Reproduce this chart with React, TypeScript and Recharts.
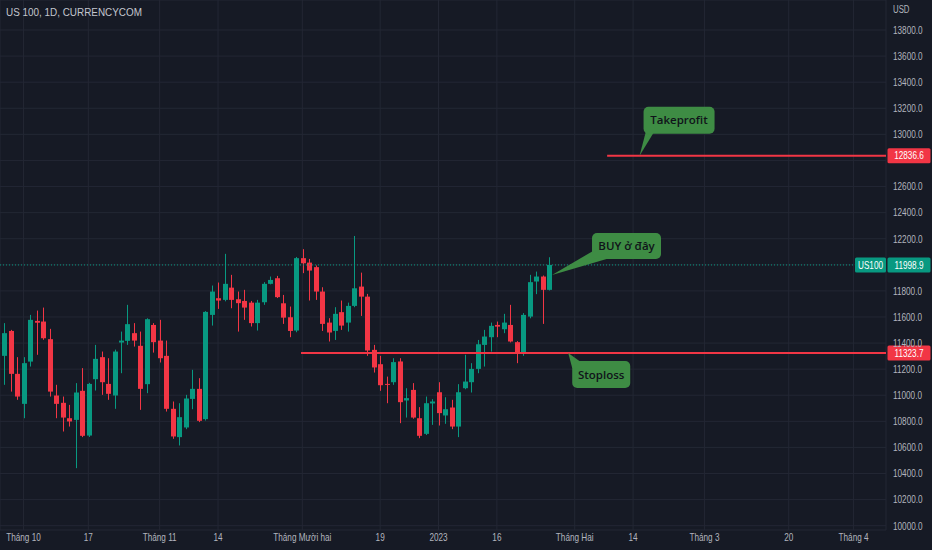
import React from 'react';
import {
  ComposedChart,
  Bar,
  XAxis,
  YAxis,
  CartesianGrid,
  ReferenceLine,
  ReferenceDot,
} from 'recharts';

// ---- Data (US100, daily, Sep 28 2022 .. Jan 26 2023) ----
const opens = [
  11302, 11493, 11164, 10934, 11258, 11570, 11565, 11430, 10998, 10942,
  10824, 10811, 11034, 10691, 11123, 11292, 11087, 10998, 11404, 11417,
  11476, 11379, 11085, 11539, 11419, 11302, 10896, 10679, 10753, 10972,
  11049, 10817, 11616, 11744, 11731, 11825, 11736, 11723, 11710, 11553,
  11713, 11854, 11897, 11705, 11598, 11496, 12051, 12017, 11982, 11795,
  11557, 11493, 11637, 11557, 11685, 11833, 11756, 11348, 11238, 11087,
  11100, 11259, 10960, 11041, 10824, 10704, 10937, 11023, 10845, 10906,
  10760, 11054, 11100, 11202, 11386, 11445, 11539, 11506, 11539, 11407,
  11323, 11603, 11872, 11910, 11808,
];
const highs = [
  11553, 11501, 11292, 11292, 11616, 11649, 11672, 11509, 11080, 10990,
  10926, 11093, 11208, 11095, 11386, 11335, 11284, 11350, 11488, 11693,
  11553, 11488, 11590, 11553, 11578, 11419, 10952, 10939, 11003, 11195,
  11131, 11645, 11841, 11864, 12084, 11923, 11795, 11808, 11723, 11731,
  11867, 11910, 11915, 11769, 11680, 12060, 12120, 12045, 11995, 11828,
  11591, 11675, 11726, 11710, 12221, 11940, 11777, 11386, 11302, 11143,
  11284, 11284, 11054, 11093, 10909, 10990, 10970, 11100, 10985, 10965,
  11085, 11310, 11246, 11424, 11501, 11557, 11565, 11624, 11693, 11415,
  11630, 11923, 11948, 11918, 12058,
];
const lows = [
  11080, 11028, 10965, 10824, 11220, 11310, 11425, 10990, 10824, 10722,
  10760, 10441, 10679, 10680, 11036, 11003, 10965, 10896, 11169, 11386,
  11373, 10888, 11016, 11327, 11251, 10875, 10666, 10615, 10740, 10893,
  10794, 10806, 11534, 11662, 11720, 11667, 11488, 11578, 11527, 11496,
  11693, 11850, 11745, 11547, 11445, 11483, 11936, 11726, 11731, 11493,
  11412, 11424, 11501, 11488, 11675, 11608, 11302, 11174, 11034, 10939,
  11080, 10786, 10829, 10820, 10671, 10695, 10773, 10768, 10781, 10740,
  10679, 11046, 11021, 11169, 11220, 11335, 11445, 11476, 11405, 11246,
  11302, 11590, 11775, 11547, 11803,
];
const closes = [
  11476, 11164, 10990, 11246, 11578, 11556, 11437, 11028, 10934, 10829,
  10799, 11021, 10689, 11087, 11279, 11100, 11011, 11335, 11419, 11545,
  11419, 11049, 11583, 11407, 11284, 10896, 10684, 10832, 10975, 11049,
  10804, 11639, 11795, 11726, 11854, 11731, 11706, 11672, 11553, 11710,
  11854, 11884, 11752, 11595, 11493, 12051, 12012, 11956, 11795, 11547,
  11481, 11624, 11534, 11685, 11820, 11756, 11343, 11213, 11077, 11080,
  11254, 10947, 10978, 10829, 10689, 10939, 10952, 10863, 10893, 10760,
  11023, 11105, 11202, 11391, 11450, 11532, 11526, 11557, 11412, 11330,
  11616, 11867, 11910, 11808, 11998.9,
];

// time axis: bar index -> label
const xTickIndex = [3, 13, 24, 33, 46, 58, 67, 76, 88, 97, 108, 121, 131];
const xTickLabels = [
  'Tháng 10', '17', 'Tháng 11', '14', 'Tháng Mười hai', '19', '2023', '16',
  'Tháng Hai', '14', 'Tháng 3', '20', 'Tháng 4',
];
const yTicks = [
  10000, 10200, 10400, 10600, 10800, 11000, 11200, 11400, 11600, 11800,
  12000, 12200, 12400, 12600, 12800, 13000, 13200, 13400, 13600, 13800,
];

// levels
const lastPrice = 11998.9;
const takeProfit = 12836.6;
const stopLoss = 11323.7;
const takeProfitStart = 93;
const stopLossStart = 45.8;
const xMin = -0.617;
const xMax = 136;
const yMin = 9967;
const yMax = 14030;
const taggedPrices = [lastPrice, takeProfit, stopLoss];

// callouts: anchor bar index & price
const tpCallout = { i: 98, price: takeProfit, text: 'Takeprofit' };
const buyCallout = { i: 84.5, price: 11922, text: 'BUY ở đây' };
const slCallout = { i: 87, price: stopLoss, text: 'Stoploss' };

const data = opens.map((o, i) => ({
  i,
  open: o,
  high: highs[i],
  low: lows[i],
  close: closes[i],
  range: [lows[i], highs[i]],
}));

const BG = '#161a25';
const GRID = '#232734';
const TEXT = '#b2b5be';
const GREEN = '#089981';
const RED = '#f23645';
const BUBBLE = '#3e8c44';
const AXIS_FONT = "'Liberation Sans', Arial, sans-serif";
const NOTE_FONT = "'Open Sans', 'Liberation Sans', sans-serif";
const SQUEEZE = 0.78;

const Candle = (props: any) => {
  const { x, y, width, height, payload } = props;
  if (!payload || x == null) return null;
  const { open, close, high, low } = payload;
  const top = Math.min(y, y + height);
  const h = Math.abs(height);
  const k = high - low === 0 ? 0 : h / (high - low);
  const cx = Math.round(x + width / 2) + 0.5;
  const yO = top + (high - open) * k;
  const yC = top + (high - close) * k;
  const bt = Math.min(yO, yC);
  const bh = Math.max(1, Math.abs(yO - yC));
  const color = close >= open ? GREEN : RED;
  return (
    <g>
      <line x1={cx} x2={cx} y1={top} y2={top + h} stroke={color} strokeWidth={1} />
      <rect x={cx - 2.5} y={bt} width={5} height={bh} fill={color} />
    </g>
  );
};

const YTick = (props: any) => {
  const { x, y, payload } = props;
  const v = payload?.value;
  if (v == null) return null;
  if (taggedPrices.some((t) => Math.abs(t - v) < 60)) return null;
  return (
    <g transform={`translate(${x},${y})`}>
      <text
        transform={`scale(${SQUEEZE},1)`}
        x={0}
        y={3.8}
        textAnchor="start"
        fontSize={10.5}
        fill={TEXT}
        fontFamily={AXIS_FONT}
      >
        {v.toFixed(1)}
      </text>
    </g>
  );
};

const XTick = (props: any) => {
  const { x, y, payload } = props;
  const v = payload?.value;
  const label = xTickLabels[xTickIndex.indexOf(v)] ?? '';
  return (
    <g transform={`translate(${x},${y})`}>
      <text
        transform={`scale(${SQUEEZE},1)`}
        x={0}
        y={8}
        textAnchor="middle"
        fontSize={10.5}
        fill={TEXT}
        fontFamily={AXIS_FONT}
      >
        {label}
      </text>
    </g>
  );
};

const PriceTag = (color: string, value: number, withName: boolean) => (props: any) => {
  const { cx, cy } = props;
  if (cx == null || cy == null) return null;
  return (
    <g>
      {withName && (
        <g>
          <rect x={cx - 31} y={cy - 7.5} width={31} height={15} rx={1.5} fill={color} />
          <g transform={`translate(${cx - 15.5},${cy + 3.7})`}>
            <text transform={`scale(${SQUEEZE},1)`} x={0} y={0} textAnchor="middle" fontSize={10.5} fill="#ffffff" fontFamily={AXIS_FONT}>
              US100
            </text>
          </g>
        </g>
      )}
      <rect x={cx + 1.5} y={cy - 7.5} width={43} height={15} rx={1.5} fill={color} />
      <g transform={`translate(${cx + 23},${cy + 3.7})`}>
        <text transform={`scale(${SQUEEZE},1)`} x={0} y={0} textAnchor="middle" fontSize={10.5} fill="#ffffff" fontFamily={AXIS_FONT}>
          {value.toFixed(1)}
        </text>
      </g>
    </g>
  );
};

type BubbleGeom = {
  bx: number;
  by: number;
  w: number;
  h: number;
  tri: [number, number][];
};

const Bubble = (text: string, g: BubbleGeom) => (props: any) => {
  const { cx, cy } = props;
  if (cx == null || cy == null) return null;
  const pts = [[0, 0], ...g.tri].map(([a, b]) => `${cx + a},${cy + b}`).join(' ');
  return (
    <g>
      <polygon points={pts} fill={BUBBLE} />
      <rect x={cx + g.bx} y={cy + g.by} width={g.w} height={g.h} rx={5} fill={BUBBLE} />
      <text
        x={cx + g.bx + g.w / 2}
        y={cy + g.by + g.h / 2 + 4}
        textAnchor="middle"
        fontSize={11.5}
        fontWeight={600}
        fill="#10131a"
        fontFamily={NOTE_FONT}
      >
        {text}
      </text>
    </g>
  );
};

export default function App() {
  return (
    <div
      style={{
        position: 'absolute',
        left: 0,
        top: 0,
        width: 932,
        height: 550,
        background: BG,
        overflow: 'hidden',
      }}
    >
      <ComposedChart
        width={932}
        height={550}
        data={data}
        margin={{ top: 0, right: 0, bottom: 0, left: 0 }}
      >
        <CartesianGrid stroke={GRID} strokeWidth={1} />
        <XAxis
          dataKey="i"
          type="number"
          domain={[xMin, xMax]}
          allowDataOverflow
          ticks={xTickIndex}
          axisLine={false}
          tickLine={false}
          tickSize={0}
          tickMargin={3}
          height={20}
          interval={0}
          tick={<XTick />}
        />
        <YAxis
          orientation="right"
          type="number"
          domain={[yMin, yMax]}
          allowDataOverflow
          ticks={yTicks}
          axisLine={false}
          tickLine={false}
          tickSize={0}
          tickMargin={7}
          width={46}
          interval={0}
          tick={<YTick />}
        />
        <ReferenceLine
          y={lastPrice}
          stroke={GREEN}
          strokeDasharray="1 2"
          strokeWidth={1}
        />
        <Bar
          dataKey="range"
          barSize={5}
          isAnimationActive={false}
          shape={Candle}
        />
        <ReferenceLine
          segment={[
            { x: takeProfitStart, y: takeProfit },
            { x: xMax, y: takeProfit },
          ]}
          stroke={RED}
          strokeWidth={2}
          ifOverflow="visible"
        />
        <ReferenceLine
          segment={[
            { x: stopLossStart, y: stopLoss },
            { x: xMax, y: stopLoss },
          ]}
          stroke={RED}
          strokeWidth={2}
          ifOverflow="visible"
        />
        <ReferenceDot
          x={tpCallout.i}
          y={tpCallout.price}
          ifOverflow="visible"
          shape={Bubble(tpCallout.text, {
            bx: 4, by: -49, w: 71, h: 27,
            tri: [[6, -23], [14, -23]],
          })}
        />
        <ReferenceDot
          x={buyCallout.i}
          y={buyCallout.price}
          ifOverflow="visible"
          shape={Bubble(buyCallout.text, {
            bx: 40, by: -42, w: 69, h: 26,
            tri: [[41, -24], [58, -17]],
          })}
        />
        <ReferenceDot
          x={slCallout.i}
          y={slCallout.price}
          ifOverflow="visible"
          shape={Bubble(slCallout.text, {
            bx: 4, by: 8, w: 58, h: 27,
            tri: [[4, 15], [14, 10]],
          })}
        />
        <ReferenceDot
          x={xMax}
          y={takeProfit}
          ifOverflow="visible"
          shape={PriceTag(RED, takeProfit, false)}
        />
        <ReferenceDot
          x={xMax}
          y={stopLoss}
          ifOverflow="visible"
          shape={PriceTag(RED, stopLoss, false)}
        />
        <ReferenceDot
          x={xMax}
          y={lastPrice}
          ifOverflow="visible"
          shape={PriceTag(GREEN, lastPrice, true)}
        />
      </ComposedChart>
      <div
        style={{
          position: 'absolute',
          left: 6,
          top: 6,
          fontSize: 11,
          color: '#c3c6ce',
          fontFamily: "'Liberation Sans', Arial, sans-serif",
          whiteSpace: 'nowrap',
          transform: 'scaleX(0.9)',
          transformOrigin: 'left top',
        }}
      >
        US 100, 1D, CURRENCYCOM
      </div>
      <div
        style={{
          position: 'absolute',
          left: 893,
          top: 4,
          fontSize: 10,
          color: TEXT,
          fontFamily: AXIS_FONT,
          transform: `scaleX(${SQUEEZE})`,
          transformOrigin: 'left top',
        }}
      >
        USD
      </div>
    </div>
  );
}
